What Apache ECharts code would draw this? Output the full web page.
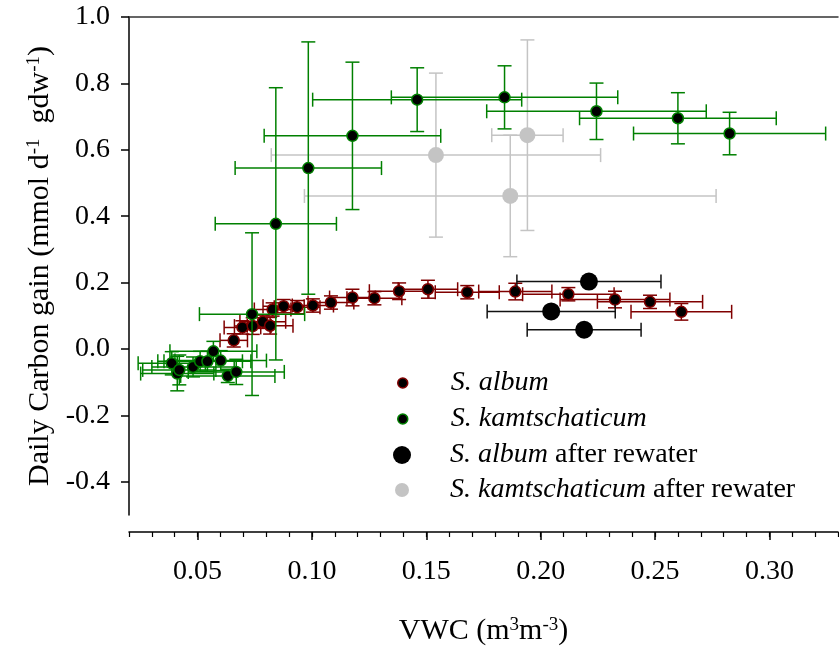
<!DOCTYPE html>
<html><head><meta charset="utf-8">
<script src="https://cdn.jsdelivr.net/npm/echarts@6/dist/echarts.min.js"></script>
<style>html,body{margin:0;padding:0;background:#fff}#c{width:839px;height:651px}</style>
</head><body><div id="c"></div>
<script>
// ---- data ----
const albumVWC      = [0.0658,0.0696,0.0741,0.0785,0.0817,0.0828,0.0876,0.0935,0.1004,0.1083,0.1177,0.1273,0.1381,0.1507,0.1679,0.1889,0.2121,0.2325,0.2478,0.2615];
const albumGain     = [0.026,0.065,0.069,0.082,0.070,0.119,0.129,0.126,0.131,0.140,0.155,0.153,0.174,0.180,0.171,0.173,0.165,0.149,0.142,0.112];
const albumVWCErr   = [0.006,0.008,0.008,0.010,0.010,0.008,0.009,0.010,0.009,0.010,0.010,0.012,0.013,0.013,0.014,0.016,0.020,0.024,0.023,0.022];
const albumGainErr  = [0.020,0.020,0.025,0.020,0.025,0.020,0.020,0.020,0.020,0.020,0.025,0.020,0.025,0.027,0.020,0.025,0.020,0.025,0.020,0.025];

const kamVWC        = [0.0387,0.0411,0.0420,0.0480,0.0511,0.0543,0.0569,0.0601,0.0632,0.0669,0.0738,0.0842,0.0984,0.1177,0.1460,0.1842,0.2244,0.2600,0.2826];
const kamGain       = [-0.043,-0.074,-0.063,-0.054,-0.037,-0.037,-0.007,-0.035,-0.081,-0.069,0.105,0.377,0.545,0.642,0.751,0.758,0.716,0.695,0.649];
const kamVWCErr     = [0.0147,0.016,0.016,0.018,0.0185,0.019,0.019,0.020,0.0206,0.021,0.023,0.0265,0.032,0.0386,0.0457,0.0495,0.048,0.043,0.042];
const kamGainErr    = [0.035,0.052,0.045,0.030,0.030,0.030,0.030,0.030,0.020,0.038,0.245,0.410,0.380,0.222,0.096,0.095,0.085,0.077,0.064];

const albumRwVWC     = [0.2211,0.2046,0.2190];
const albumRwGain    = [0.203,0.113,0.058];
const albumRwVWCErr  = [0.0315,0.028,0.0249];
const albumRwGainErr = [0,0,0];

const kamRwVWC     = [0.1542,0.1867,0.1942];
const kamRwGain    = [0.584,0.461,0.644];
const kamRwVWCErr  = [0.072,0.090,0.0156];
const kamRwGainErr = [0.247,0.183,0.287];

const seriesNames = ['S. album','S. kamtschaticum','S. album after rewater','S. kamtschaticum after rewater'];
const xMajorTicks = [0.05,0.10,0.15,0.20,0.25,0.30];
const xMinorTicks = [0.02,0.03,0.04,0.05,0.06,0.07,0.08,0.09,0.10,0.11,0.12,0.13,0.14,0.15,0.16,0.17,0.18,0.19,0.20,0.21,0.22,0.23,0.24,0.25,0.26,0.27,0.28,0.29,0.30,0.31,0.32,0.33];
const yTicks = [-0.4,-0.2,0.0,0.2,0.4,0.6,0.8,1.0];

// ---- helpers ----
const FONT = '"Liberation Serif","Times New Roman",serif';
function zip(a,b,c,d){ return a.map((v,i)=>[v,b[i],c?c[i]:0,d?d[i]:0]); }
function errRender(color, cap, width){
  return function(params, api){
    const x=api.value(0), y=api.value(1), ex=api.value(2), ey=api.value(3);
    const ch=[];
    const st=()=>({stroke:color,lineWidth:width});
    if(ex>0){
      const l=api.coord([x-ex,y]), r=api.coord([x+ex,y]);
      ch.push({type:'line',shape:{x1:l[0],y1:l[1],x2:r[0],y2:r[1]},style:st()});
      ch.push({type:'line',shape:{x1:l[0],y1:l[1]-cap,x2:l[0],y2:l[1]+cap},style:st()});
      ch.push({type:'line',shape:{x1:r[0],y1:r[1]-cap,x2:r[0],y2:r[1]+cap},style:st()});
    }
    if(ey>0){
      const t=api.coord([x,y+ey]), b=api.coord([x,y-ey]);
      ch.push({type:'line',shape:{x1:t[0],y1:t[1],x2:b[0],y2:b[1]},style:st()});
      ch.push({type:'line',shape:{x1:t[0]-cap,y1:t[1],x2:t[0]+cap,y2:t[1]},style:st()});
      ch.push({type:'line',shape:{x1:b[0]-cap,y1:b[1],x2:b[0]+cap,y2:b[1]},style:st()});
    }
    return {type:'group',children:ch};
  };
}
function errSeries(name,data,color,z){
  return {name:name,type:'custom',data:data,encode:{x:0,y:1},z:z,silent:true,
    renderItem:errRender(color,7,1.5)};
}

const GREEN='#008000', DRED='#800000', GREY='#c4c4c4';
const LFS = 28;
function legendFmt(name){
  const m = name.match(/^(S\. \w+)(.*)$/);
  return '{i|'+m[1]+'}'+(m[2]?'{n|'+m[2]+'}':'');
}
// icon centre at x=402, text starting at x=450
function mkLegend(name, top, size, style){
  const pad = 450 - (402 + size/2 + 5);
  return {
    data:[{name:name,icon:'circle',itemStyle:style}],
    left:402 - size/2, top:top, orient:'vertical', padding:0, selectedMode:false,
    itemWidth:size, itemHeight:size,
    formatter:legendFmt,
    textStyle:{fontFamily:FONT,fontSize:LFS,color:'#000',lineHeight:28,
      rich:{
        i:{fontStyle:'italic',fontFamily:FONT,fontSize:LFS,color:'#000',lineHeight:28,padding:[0,0,0,pad]},
        n:{fontFamily:FONT,fontSize:LFS,color:'#000',lineHeight:28}
      }}
  };
}
const supRich = {sup:{fontFamily:FONT,fontSize:19,color:'#000',verticalAlign:'top',padding:[0,0,11,0]}};

const chart = echarts.init(document.getElementById('c'), null, {renderer:'canvas'});
chart.setOption({
  animation:false,
  backgroundColor:'#fff',
  grid:{left:129,right:1,top:17,bottom:132,containLabel:false},
  xAxis:[
    {type:'value',min:0.02,max:0.33,position:'bottom',offset:17,
     axisLine:{show:true,onZero:false,lineStyle:{color:'#000',width:1.5}},
     axisTick:{show:true,length:5,customValues:xMinorTicks,lineStyle:{color:'#000',width:1.2}},
     axisLabel:{show:true,customValues:xMajorTicks,margin:26,fontFamily:FONT,fontSize:28,color:'#000',lineHeight:28,
       formatter:v=>v.toFixed(2)},
     splitLine:{show:false},
     name:'VWC (m{sup|3}m{sup|-3})',nameLocation:'middle',nameGap:84,
     nameTextStyle:{fontFamily:FONT,fontSize:30,color:'#000',rich:supRich}},
    {type:'value',min:0.02,max:0.33,position:'bottom',offset:17,
     axisLine:{show:false,onZero:false},
     axisTick:{show:true,length:8,customValues:xMajorTicks,lineStyle:{color:'#000',width:1.5}},
     axisLabel:{show:false},splitLine:{show:false}},
    {type:'value',min:0.02,max:0.33,position:'top',
     axisLine:{show:true,onZero:false,lineStyle:{color:'#333',width:1.5}},
     axisTick:{show:false},axisLabel:{show:false},splitLine:{show:false}}
  ],
  yAxis:[{type:'value',min:-0.5,max:1.0,position:'left',
     axisLine:{show:true,onZero:false,lineStyle:{color:'#000',width:1.5}},
     axisTick:{show:true,length:8,customValues:yTicks,lineStyle:{color:'#000',width:1.5}},
     axisLabel:{show:true,customValues:yTicks,margin:19,fontFamily:FONT,fontSize:28,color:'#000',
       formatter:v=>v.toFixed(1)},
     splitLine:{show:false},
     name:'Daily Carbon gain (mmol d{sup|-1}  gdw{sup|-1})',nameLocation:'middle',nameGap:68,
     nameTextStyle:{fontFamily:FONT,fontSize:30,color:'#000',rich:supRich}}],
  legend:[
    mkLegend(seriesNames[0],369,10,{color:'#000',borderColor:DRED,borderWidth:1.5}),
    mkLegend(seriesNames[1],405,10,{color:'#000',borderColor:GREEN,borderWidth:1.5}),
    mkLegend(seriesNames[2],441,18,{color:'#000',borderWidth:0}),
    mkLegend(seriesNames[3],476,14,{color:GREY,borderWidth:0})
  ],
  series:[
    errSeries('err4',zip(kamRwVWC,kamRwGain,kamRwVWCErr,kamRwGainErr),GREY,1),
    {name:seriesNames[3],type:'scatter',z:2,symbol:'circle',symbolSize:16,
     data:kamRwVWC.map((v,i)=>[v,kamRwGain[i]]),itemStyle:{color:GREY,opacity:1}},
    errSeries('err1',zip(albumVWC,albumGain,albumVWCErr,albumGainErr),DRED,3),
    {name:seriesNames[0],type:'scatter',z:4,symbol:'circle',symbolSize:11,
     data:albumVWC.map((v,i)=>[v,albumGain[i]]),itemStyle:{color:'#000',borderColor:DRED,borderWidth:1.5,opacity:1}},
    errSeries('err2',zip(kamVWC,kamGain,kamVWCErr,kamGainErr),GREEN,5),
    {name:seriesNames[1],type:'scatter',z:6,symbol:'circle',symbolSize:11,
     data:kamVWC.map((v,i)=>[v,kamGain[i]]),itemStyle:{color:'#000',borderColor:GREEN,borderWidth:1.5,opacity:1}},
    errSeries('err3',zip(albumRwVWC,albumRwGain,albumRwVWCErr,albumRwGainErr),'#111',7),
    {name:seriesNames[2],type:'scatter',z:8,symbol:'circle',symbolSize:18,
     data:albumRwVWC.map((v,i)=>[v,albumRwGain[i]]),itemStyle:{color:'#000',opacity:1}}
  ]
});
</script></body></html>
